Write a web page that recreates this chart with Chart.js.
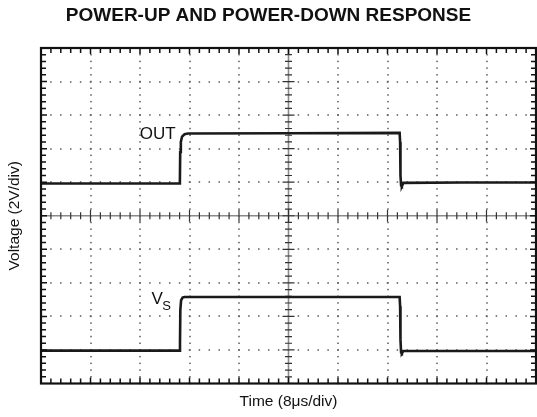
<!DOCTYPE html>
<html>
<head>
<meta charset="utf-8">
<script src="https://cdn.jsdelivr.net/npm/chart.js@4.4.0/dist/chart.umd.min.js"></script>
<style>
    html, body { margin: 0; padding: 0; background: #fff; }
</style>
</head>
<body>
<canvas id="scope" width="537" height="417"></canvas>
<script>
const chartTitle = 'POWER-UP AND POWER-DOWN RESPONSE';
const xTitle = 'Time (8\u03bcs/div)';
const yTitle = 'Voltage (2V/div)';

// both axes are in scope divisions (10 x 10 graticule)
const outTime = [0, 1.5, 2.79, 2.806, 2.812, 2.825, 2.85, 2.9, 2.97, 5.0, 7.245, 7.255, 7.262, 7.275, 7.29, 7.32, 8.5, 10];
const outVolt = [5.96, 5.96, 5.96, 6.05, 6.9, 7.2, 7.36, 7.43, 7.45, 7.46, 7.47, 7.2, 6.2, 5.9, 5.88, 5.98, 5.99, 5.99];

const vsTime = [0, 1.5, 2.8, 2.808, 2.815, 2.83, 2.86, 2.9, 5.0, 7.245, 7.255, 7.262, 7.275, 7.29, 7.32, 8.5, 10];
const vsVolt = [0.98, 0.98, 0.98, 1.2, 2.2, 2.48, 2.56, 2.58, 2.58, 2.58, 2.3, 1.3, 0.92, 0.9, 0.97, 0.97, 0.97];

const divisions = 10;
const minorPerDiv = 5;

const toPoints = (xs, ys) => xs.map((x, i) => ({ x: x, y: ys[i] }));

const graticule = {
    id: 'graticule',
    beforeDatasetsDraw(chart) {
        const { ctx, chartArea: a, scales: { x, y } } = chart;
        ctx.save();
        // dotted major grid lines
        ctx.fillStyle = '#5a5a5a';
        for (let i = 1; i < divisions; i++) {
            if (i === divisions / 2) continue;
            const px = x.getPixelForValue(i);
            const py = y.getPixelForValue(i);
            for (let k = 0; k <= divisions * minorPerDiv; k++) {
                const v = k / minorPerDiv;
                ctx.fillRect(Math.round(px) - 0.75, y.getPixelForValue(v) - 0.75, 1.5, 1.5);
                ctx.fillRect(x.getPixelForValue(v) - 0.75, Math.round(py) - 0.75, 1.5, 1.5);
            }
        }
        // centre axes
        const cx = x.getPixelForValue(divisions / 2);
        const cy = y.getPixelForValue(divisions / 2);
        ctx.strokeStyle = '#8a8a8a';
        ctx.lineWidth = 1.6;
        ctx.beginPath();
        ctx.moveTo(a.left, cy); ctx.lineTo(a.right, cy);
        ctx.moveTo(cx, a.top); ctx.lineTo(cx, a.bottom);
        ctx.stroke();
        ctx.strokeStyle = '#333';
        ctx.lineWidth = 1.2;
        ctx.beginPath();
        for (let k = 1; k < divisions * minorPerDiv; k++) {
            const v = k / minorPerDiv;
            const len = k % minorPerDiv === 0 ? 6 : 3.5;
            const px = x.getPixelForValue(v);
            const py = y.getPixelForValue(v);
            ctx.moveTo(px, cy - len); ctx.lineTo(px, cy + len);
            ctx.moveTo(cx - len, py); ctx.lineTo(cx + len, py);
        }
        ctx.stroke();
        ctx.restore();
    },
    afterDatasetsDraw(chart) {
        const { ctx, chartArea: a, scales: { x, y } } = chart;
        ctx.save();
        // frame with inward ticks
        ctx.strokeStyle = '#111';
        ctx.lineWidth = 1.5;
        ctx.beginPath();
        for (let k = 1; k < divisions * minorPerDiv; k++) {
            const v = k / minorPerDiv;
            const len = k % minorPerDiv === 0 ? 6 : 5;
            const px = x.getPixelForValue(v);
            const py = y.getPixelForValue(v);
            ctx.moveTo(px, a.top); ctx.lineTo(px, a.top + len);
            ctx.moveTo(px, a.bottom); ctx.lineTo(px, a.bottom - len);
            ctx.moveTo(a.left, py); ctx.lineTo(a.left + len, py);
            ctx.moveTo(a.right, py); ctx.lineTo(a.right - len, py);
        }
        ctx.stroke();
        ctx.lineWidth = 2.2;
        ctx.strokeRect(a.left, a.top, a.right - a.left, a.bottom - a.top);

        // trace labels
        ctx.fillStyle = '#111';
        ctx.font = '17px "Liberation Sans", Arial, sans-serif';
        ctx.textAlign = 'right';
        ctx.textBaseline = 'alphabetic';
        ctx.fillText('OUT', x.getPixelForValue(2.72), y.getPixelForValue(7.28));
        ctx.textAlign = 'left';
        ctx.fillText('V', x.getPixelForValue(2.23), y.getPixelForValue(2.38));
        ctx.font = '13px "Liberation Sans", Arial, sans-serif';
        ctx.fillText('S', x.getPixelForValue(2.45), y.getPixelForValue(2.2));

        // titles
        ctx.textAlign = 'center';
        ctx.textBaseline = 'middle';
        ctx.font = 'bold 19px "Liberation Sans", Arial, sans-serif';
        ctx.fillText(chartTitle, chart.width / 2, 16);
        ctx.font = '15.5px "Liberation Sans", Arial, sans-serif';
        ctx.fillText(xTitle, (a.left + a.right) / 2, 402);
        ctx.translate(15, (a.top + a.bottom) / 2);
        ctx.rotate(-Math.PI / 2);
        ctx.fillText(yTitle, 0, 0);
        ctx.restore();
    }
};

new Chart(document.getElementById('scope'), {
    type: 'line',
    data: {
        datasets: [
            {
                label: 'OUT',
                data: toPoints(outTime, outVolt),
                borderColor: '#1a1a1a',
                borderWidth: 2.6,
                pointRadius: 0,
                tension: 0,
            },
            {
                label: 'VS',
                data: toPoints(vsTime, vsVolt),
                borderColor: '#1a1a1a',
                borderWidth: 2.6,
                pointRadius: 0,
                tension: 0,
            },
        ],
    },
    options: {
        responsive: false,
        animation: false,
        layout: { padding: { left: 41, top: 48, right: 1, bottom: 33.5 } },
        plugins: {
            legend: { display: false },
            tooltip: { enabled: false },
        },
        scales: {
            x: { type: 'linear', min: 0, max: divisions, display: false },
            y: { type: 'linear', min: 0, max: divisions, display: false },
        },
    },
    plugins: [graticule],
});
</script>
</body>
</html>
